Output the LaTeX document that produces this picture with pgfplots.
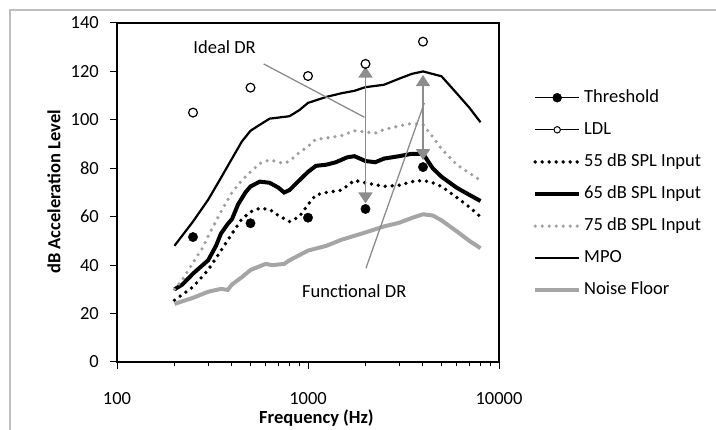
\documentclass[border=0pt]{standalone}
\usepackage{fontspec}
\setmainfont{Carlito}
\usepackage{pgfplots}
\usepackage{pgfplotstable}
\pgfplotsset{compat=1.18}
\usetikzlibrary{arrows.meta}

\definecolor{floorgray}{RGB}{165,165,165}
\definecolor{dotgray}{RGB}{160,160,160}
\definecolor{arrowgray}{RGB}{140,140,140}
\definecolor{framegray}{RGB}{190,190,190}

% measured points (Hz, dB)
\pgfplotstableread{
f v
250 51.6
500 57.3
1000 59.6
2000 63.2
4000 80.5
}\threshold
\pgfplotstableread{
f v
250 103
500 113.3
1000 118.1
2000 123.1
4000 132.3
}\ldl
\pgfplotstableread{
f v
200 25.5
250 31
300 38
350 46
400 53
450 59
500 62
560 63.5
630 63
700 60.5
800 58
900 60
1000 65
1100 69
1250 70
1500 71
1750 75
2000 74
2500 72.5
3000 73
3500 74.5
4000 75
4500 74
5000 72.5
6000 68
7000 64
8000 60
}\inA
\pgfplotstableread{
f v
200 30
220 32
250 36.5
300 42
330 48
350 53
380 57
400 59
430 65
470 70
500 72.5
560 74.5
630 74
700 72
750 70
800 71
900 75
1000 78.5
1100 81
1250 81.5
1400 82.5
1600 84.5
1750 85
2000 83
2250 82.5
2500 84
3000 85
3500 86
4000 86
4500 80
5000 76.5
6000 72
7000 69
8000 66.5
}\inB
\pgfplotstableread{
f v
200 30
220 34
250 41
280 47
300 52
350 62
400 70
450 75
500 78.5
560 82
630 83.5
700 82.5
750 82
800 83
900 86.5
1000 89
1100 92
1250 92.5
1500 93.5
1750 95.5
2000 95
2250 94.5
2500 96
3000 97.5
3500 98.5
4000 98
4500 93
5000 88
6000 81.5
7000 78
8000 75
}\inC
\pgfplotstableread{
f v
200 48
250 58
300 67
350 76
400 84
450 91
500 95.5
560 98
630 100.5
800 101.5
900 104
1000 107
1250 109.5
1500 111
1750 112
2000 113.5
2500 114.5
3000 117
3500 119
4000 120
5000 118
6000 111
7000 105
8000 99
}\mpo
\pgfplotstableread{
f v
200 24
250 26.5
300 29
350 30.2
380 29.8
400 32
450 35
500 38
600 40.5
650 40
750 40.5
800 42
1000 46
1250 48
1500 50.5
2000 53.5
2500 56
3000 57.5
3500 59.5
4000 61
4500 60.5
5000 58.5
6000 54
7000 50
8000 47
}\noise

\newcommand{\lab}{\fontsize{18.5}{22}\selectfont}

\begin{document}
\begin{tikzpicture}
\useasboundingbox (0pt,0pt) rectangle (716pt,-430pt);
\draw[framegray, line width=2pt] (10pt,-430pt) -- (10pt,-10pt) -- (716pt,-10pt);

\begin{axis}[
  at={(117pt,-362pt)}, anchor=south west,
  scale only axis, width=382pt, height=339pt,
  xmode=log, xmin=100, xmax=10000, ymin=0, ymax=140,
  axis line style={line width=1.3pt},
  xtick={100,1000,10000}, xticklabels={100,1000,10000},
  minor xtick={200,300,400,500,600,700,800,900,2000,3000,4000,5000,6000,7000,8000,9000},
  ytick={0,20,...,140},
  xtick pos=bottom, ytick pos=left, tick align=outside,
  major tick length=7pt, minor tick length=4pt,
  every tick/.style={black, line width=1pt},
  /pgf/number format/assume math mode=true,
  tick label style={font=\lab},
  xticklabel style={anchor=base, inner sep=0pt, yshift=-36pt},
  yticklabel style={anchor=east, inner sep=0pt, xshift=-11pt},
  legend cell align=left,
  legend image code/.code={\draw (0pt,0pt) -- (44pt,0pt);},
  legend style={draw=none, fill=none, at={(1.089,0.8053)}, anchor=north west,
    inner sep=0pt, row sep=15.1pt, column sep=3pt,
    nodes={inner sep=0pt, text height=13pt, text depth=4pt, font=\lab}},
]
\addplot[only marks, mark=*, mark size=4.7pt, black,
  legend image code/.code={\draw[black, line width=1pt] (0pt,0pt) -- (44pt,0pt);
    \fill[black] (22pt,0pt) circle (4.5pt);}]
  table[x=f, y=v] {\threshold};
\addlegendentry{Threshold}
\addplot[only marks, mark=o, mark size=4.4pt, black, mark options={line width=1.2pt},
  legend image code/.code={\draw[black, line width=1pt] (0pt,0pt) -- (44pt,0pt);
    \filldraw[fill=white, draw=black, line width=1pt] (22pt,0pt) circle (3.2pt);}]
  table[x=f, y=v] {\ldl};
\addlegendentry{LDL}
\addplot[black, line width=3.8pt, line cap=round, dash pattern=on 0pt off 7pt]
  table[x=f, y=v] {\inA};
\addlegendentry{55 dB SPL Input}
\addplot[black, line width=4pt]
  table[x=f, y=v] {\inB};
\addlegendentry{65 dB SPL Input}
\addplot[dotgray, line width=3.6pt, line cap=round, dash pattern=on 0pt off 7pt]
  table[x=f, y=v] {\inC};
\addlegendentry{75 dB SPL Input}
\addplot[black, line width=2.2pt]
  table[x=f, y=v] {\mpo};
\addlegendentry{MPO}
\addplot[floorgray, line width=4pt]
  table[x=f, y=v] {\noise};
\addlegendentry{Noise Floor}

% annotations
\draw[arrowgray, line width=1.3pt] (axis cs:586,123.1) -- (axis cs:1972,101.1);
\draw[arrowgray, line width=1.3pt] (axis cs:2010,38.7) -- (axis cs:4064,107);
\draw[arrowgray, line width=1.8pt, {Triangle[width=14pt,length=11pt]}-{Triangle[width=14pt,length=11pt]}]
  (axis cs:2000,122) -- (axis cs:2000,65.5);
\draw[arrowgray, line width=1.8pt, {Triangle[width=14pt,length=11pt]}-{Triangle[width=14pt,length=11pt]}]
  (axis cs:4000,118.5) -- (axis cs:4000,83.4);
\node[font=\lab, inner sep=0pt] at (axis cs:366,130.1) {Ideal DR};
\node[font=\lab, inner sep=0pt] at (axis cs:1746,29.3) {Functional DR};
\end{axis}

\node[font=\lab\bfseries, rotate=90, inner sep=0pt] at (54pt,-192pt) {dB Acceleration Level};
\node[font=\lab\bfseries, inner sep=0pt] at (316.5pt,-418pt) {Frequency (Hz)};
\end{tikzpicture}
\end{document}
